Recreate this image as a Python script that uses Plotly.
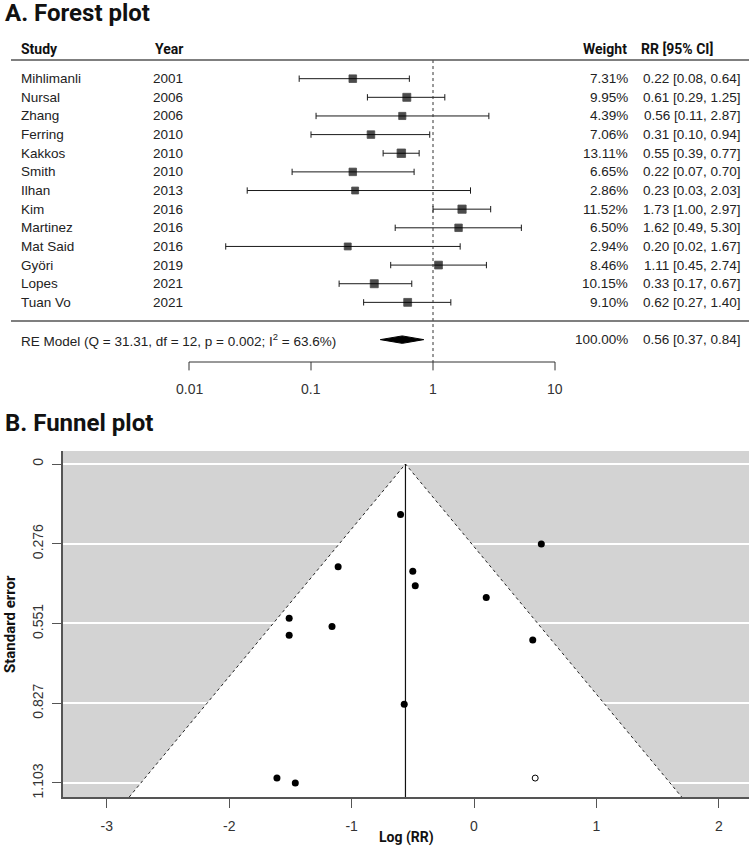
import numpy as np
import plotly.graph_objects as go

# ---------------- data ----------------
studies = ["Mihlimanli", "Nursal", "Zhang", "Ferring", "Kakkos", "Smith", "Ilhan",
           "Kim", "Martinez", "Mat Said", "Györi", "Lopes", "Tuan Vo"]
years = [2001, 2006, 2006, 2010, 2010, 2010, 2013, 2016, 2016, 2016, 2019, 2021, 2021]
weights = [7.31, 9.95, 4.39, 7.06, 13.11, 6.65, 2.86, 11.52, 6.50, 2.94, 8.46, 10.15, 9.10]
rr = [0.22, 0.61, 0.56, 0.31, 0.55, 0.22, 0.23, 1.73, 1.62, 0.20, 1.11, 0.33, 0.62]
ci_low = [0.08, 0.29, 0.11, 0.10, 0.39, 0.07, 0.03, 1.00, 0.49, 0.02, 0.45, 0.17, 0.27]
ci_high = [0.64, 1.25, 2.87, 0.94, 0.77, 0.70, 2.03, 2.97, 5.30, 1.67, 2.74, 0.67, 1.40]
pooled_weight = 100.00
pooled_rr, pooled_low, pooled_high = 0.56, 0.37, 0.84
re_label = "RE Model (Q = 31.31, df = 12, p = 0.002; I<sup>2</sup> = 63.6%)"
forest_ticks = [0.01, 0.1, 1, 10]
forest_tick_labels = ["0.01", "0.1", "1", "10"]

funnel_logrr = [-1.51, -0.50, -0.57, -1.16, -0.60, -1.51, -1.46, 0.55, 0.48, -1.61, 0.10, -1.11, -0.48]
funnel_se = [0.533, 0.371, 0.831, 0.562, 0.175, 0.592, 1.103, 0.277, 0.609, 1.086, 0.462, 0.355, 0.421]
filled_logrr = [0.50]
filled_se = [1.086]
funnel_center = -0.56
se_ticks = [0, 0.2757, 0.5515, 0.8272, 1.103]
se_tick_labels = ["0", "0.276", "0.551", "0.827", "1.103"]
logrr_ticks = [-3, -2, -1, 0, 1, 2]
logrr_tick_labels = ["-3", "-2", "-1", "0", "1", "2"]

# ---------------- layout geometry ----------------
W, H = 755, 848
ROW0_PX, ROW_H = 321.0, 18.64          # pixel of row 0, pixels per row
FOREST_BOTTOM_PX = 400.0
def px_x(p): return p / W
def px_y(p): return 1 - p / H

forest_yrange = [(ROW0_PX - FOREST_BOTTOM_PX) / ROW_H, ROW0_PX / ROW_H]
X1_PX, DECADE_PX = 433.0, 122.0
forest_xrange = [(0 - X1_PX) / DECADE_PX, (W - X1_PX) / DECADE_PX]

k = len(studies)
rows = list(range(k, 0, -1))
header_row = k + 1
axis_row = -2.2

TXT = "Liberation Sans, Arial, sans-serif"
BOLD = "Roboto, sans-serif"
TXT_COL = "#222222"

fig = go.Figure()

# CI lines and caps
cx, cy = [], []
cap = 0.17
for lo, hi, r in zip(ci_low, ci_high, rows):
    cx += [lo, hi, None, lo, lo, None, hi, hi, None]
    cy += [r, r, None, r - cap, r + cap, None, r - cap, r + cap, None]
fig.add_trace(go.Scatter(x=cx, y=cy, mode="lines", line=dict(color="#1a1a1a", width=1),
                         xaxis="x", yaxis="y", hoverinfo="skip"))
# squares
fig.add_trace(go.Scatter(x=rr, y=rows, mode="markers",
                         marker=dict(symbol="square", color="black",
                                     size=[6.5 + 0.15 * w for w in weights],
                                     line=dict(width=0.8, color="black")),
                         xaxis="x", yaxis="y"))
# diamond
dh = 0.2
fig.add_trace(go.Scatter(x=[pooled_low, pooled_rr, pooled_high, pooled_rr, pooled_low],
                         y=[-1, -1 + dh, -1, -1 - dh, -1], mode="lines", fill="toself",
                         fillcolor="black", line=dict(color="black", width=1),
                         xaxis="x", yaxis="y"))
# reference line at 1
fig.add_trace(go.Scatter(x=[1, 1], y=[header_row, axis_row], mode="lines",
                         line=dict(color="#333333", width=1, dash="dot"),
                         xaxis="x", yaxis="y"))
# forest axis
ax_x, ax_y = [forest_ticks[0], forest_ticks[-1], None], [axis_row, axis_row, None]
for t in forest_ticks:
    ax_x += [t, t, None]
    ax_y += [axis_row, axis_row - 0.45, None]
fig.add_trace(go.Scatter(x=ax_x, y=ax_y, mode="lines", line=dict(color="#333333", width=1),
                         xaxis="x", yaxis="y"))

annotations = []
def ann(text, x, y, xanchor="left", xref="paper", yref="y", font=None, **kw):
    d = dict(text=text, x=x, y=y, xref=xref, yref=yref, xanchor=xanchor,
             yanchor="middle", showarrow=False,
             font=font or dict(family=TXT, size=13.5, color=TXT_COL))
    d.update(kw)
    annotations.append(d)

hfont = dict(family=BOLD, size=14, color="#111111", weight="bold")
ann("Study", px_x(19), header_row + 0.58, font=hfont)
ann("Year", px_x(153), header_row + 0.58, font=hfont)
ann("Weight", px_x(629), header_row + 0.58, xanchor="right", font=hfont)
ann("RR [95% CI]", px_x(639), header_row + 0.58, font=hfont)

for s, yr, w, e, lo, hi, r in zip(studies, years, weights, rr, ci_low, ci_high, rows):
    ann(s, px_x(19), r)
    ann(str(yr), px_x(151), r)
    ann(f"{w:.2f}%", px_x(630), r, xanchor="right")
    ann(f"{e:.2f} [{lo:.2f}, {hi:.2f}]", px_x(743), r, xanchor="right")

ann(re_label, px_x(19), -1)
ann(f"{pooled_weight:.2f}%", px_x(630), -1, xanchor="right")
ann(f"{pooled_rr:.2f} [{pooled_low:.2f}, {pooled_high:.2f}]", px_x(743), -1, xanchor="right")

for t, lab in zip(forest_ticks, forest_tick_labels):
    ann(lab, float(np.log10(t)), axis_row - 1.45, xanchor="center", xref="x",
        font=dict(family=TXT, size=14, color="#333333"))

# titles
tfont = dict(family=BOLD, size=24, color="#111111", weight="bold")
ann("A. Forest plot", px_x(3), px_y(13), yref="paper", font=tfont)
ann("B. Funnel plot", px_x(3), px_y(423), yref="paper", font=tfont)

shapes = []
for r in [header_row, 0]:
    shapes.append(dict(type="line", xref="paper", yref="y", x0=px_x(11), x1=px_x(749),
                       y0=r, y1=r, line=dict(color="#555555", width=1.5)))

# ---------------- funnel plot ----------------
F_LEFT, F_RIGHT, F_TOP, F_BOTTOM = 63, 749, 451, 797
X0_PX, UNIT_PX = 474.0, 122.4   # pixel of log RR = 0, pixels per unit
Y0_PX, SE_PX = 464.0, 289.2     # pixel of SE = 0, pixels per unit
fx_range = [(F_LEFT - X0_PX) / UNIT_PX, (F_RIGHT - X0_PX) / UNIT_PX]
fy_range = [(F_BOTTOM - Y0_PX) / SE_PX, (F_TOP - Y0_PX) / SE_PX]
yb = fy_range[0]

shapes.append(dict(type="rect", xref="x2 domain", yref="y2 domain", x0=0, x1=1, y0=0, y1=1,
                   fillcolor="#d3d3d3", line=dict(width=0), layer="below"))

edge_x = [funnel_center - 1.96 * yb, funnel_center, funnel_center + 1.96 * yb]
edge_y = [yb, 0, yb]
fig.add_trace(go.Scatter(x=edge_x + [edge_x[0]], y=edge_y + [edge_y[0]], mode="lines",
                         fill="toself", fillcolor="white", line=dict(width=0),
                         xaxis="x2", yaxis="y2"))
fig.add_trace(go.Scatter(x=edge_x, y=edge_y, mode="lines",
                         line=dict(color="#222222", width=1, dash="dot"),
                         xaxis="x2", yaxis="y2"))
fig.add_trace(go.Scatter(x=[funnel_center, funnel_center], y=[0, yb], mode="lines",
                         line=dict(color="#111111", width=1.2), xaxis="x2", yaxis="y2"))
fig.add_trace(go.Scatter(x=funnel_logrr, y=funnel_se, mode="markers",
                         marker=dict(color="black", size=7), xaxis="x2", yaxis="y2"))
fig.add_trace(go.Scatter(x=filled_logrr, y=filled_se, mode="markers",
                         marker=dict(color="white", size=6, line=dict(color="black", width=1)),
                         xaxis="x2", yaxis="y2"))

ann("Log (RR)", px_x((F_LEFT + F_RIGHT) / 2), px_y(837), xanchor="center", yref="paper",
    font=dict(family=BOLD, size=14, color="#111111", weight="bold"))
ann("Standard error", px_x(10), px_y(624), xanchor="center", yref="paper", textangle=-90,
    font=dict(family=BOLD, size=15, color="#111111", weight="bold"))

axis_common = dict(showline=True, linecolor="#555555", linewidth=1.5, ticks="outside",
                   ticklen=9, tickwidth=1.2, tickcolor="#555555", zeroline=False,
                   tickfont=dict(family=TXT, size=14, color="#333333"), fixedrange=True)

fig.update_layout(
    width=W, height=H, margin=dict(l=0, r=0, t=0, b=0),
    paper_bgcolor="white", plot_bgcolor="rgba(0,0,0,0)", showlegend=False,
    xaxis=dict(type="log", range=forest_xrange, domain=[0, 1], visible=False,
               anchor="y", fixedrange=True),
    yaxis=dict(range=forest_yrange, domain=[px_y(FOREST_BOTTOM_PX), 1], visible=False,
               anchor="x", fixedrange=True),
    xaxis2=dict(range=fx_range, domain=[px_x(F_LEFT), px_x(F_RIGHT)], anchor="y2",
                tickvals=logrr_ticks, ticktext=logrr_tick_labels, showgrid=False,
                ticklabelstandoff=6, **axis_common),
    yaxis2=dict(range=fy_range, domain=[px_y(F_BOTTOM), px_y(F_TOP)], anchor="x2",
                tickvals=se_ticks, ticktext=se_tick_labels, tickangle=-90,
                showgrid=True, gridcolor="white", gridwidth=1.5,
                ticklabelstandoff=4, **axis_common),
    annotations=annotations, shapes=shapes,
)

fig.write_html("out.html", config={"displayModeBar": False},
               post_script="document.body.style.margin='0px';")
